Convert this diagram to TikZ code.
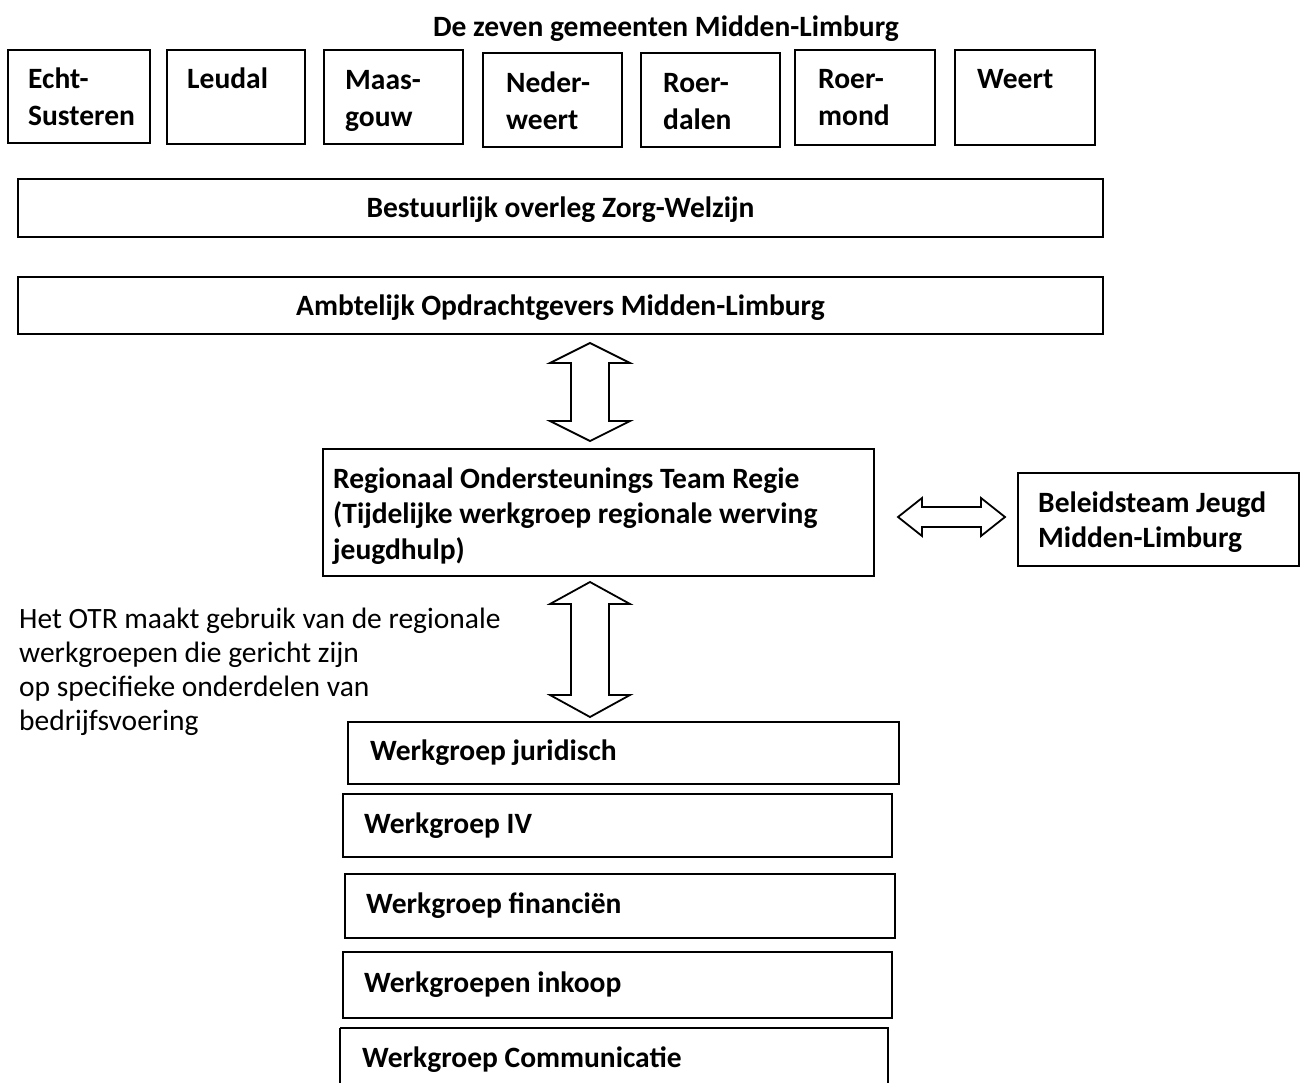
\documentclass[tikz,border=0pt]{standalone}
\usepackage{fontspec}
\setmainfont{Carlito}
\newcommand{\vdblarrow}[6]{% cx, ytop, ybot, half head, half shaft, head length
  \draw[blockarrow] (#1,#2) -- ({#1+#4},{#2+#6}) -- ({#1+#5},{#2+#6}) -- ({#1+#5},{#3-#6})
    -- ({#1+#4},{#3-#6}) -- (#1,#3) -- ({#1-#4},{#3-#6}) -- ({#1-#5},{#3-#6})
    -- ({#1-#5},{#2+#6}) -- ({#1-#4},{#2+#6}) -- cycle;}
\newcommand{\hdblarrow}[6]{% cy, xleft, xright, half head, half shaft, head length
  \draw[blockarrow] (#2,#1) -- ({#2+#6},{#1-#4}) -- ({#2+#6},{#1-#5}) -- ({#3-#6},{#1-#5})
    -- ({#3-#6},{#1-#4}) -- (#3,#1) -- ({#3-#6},{#1+#4}) -- ({#3-#6},{#1+#5})
    -- ({#2+#6},{#1+#5}) -- ({#2+#6},{#1+#4}) -- cycle;}
\begin{document}
\begin{tikzpicture}[x=1pt,y=-1pt,
  box/.style={draw=black, line width=2.4pt, fill=white, inner sep=0pt},
  blockarrow/.style={draw=black, line width=1.8pt, fill=white, line join=miter},
  lbl/.style={anchor=base west, inner sep=0pt, align=left,
    font=\fontsize{29.5}{37}\selectfont\bfseries},
  clbl/.style={anchor=base, inner sep=0pt,
    font=\fontsize{29.5}{37}\selectfont\bfseries},
  note/.style={anchor=base west, inner sep=0pt, align=left,
    font=\fontsize{29.5}{34}\selectfont}]
\useasboundingbox (0,0) rectangle (1300,1083);
\fill[white] (0,0) rectangle (1300,1083);

% title
\node[clbl] (title) at (666,37) {De zeven gemeenten Midden-Limburg};

% the seven municipalities (anchor = baseline of last line)
\draw[box] (8,50) rectangle (150,143);
\node[lbl] (echt) at (28,126) {Echt-\\Susteren};
\draw[box] (167,50) rectangle (305,144);
\node[lbl] (leudal) at (187,89) {Leudal};
\draw[box] (324,50) rectangle (463,144);
\node[lbl] (maas) at (345,127) {Maas-\\gouw};
\draw[box] (483,53) rectangle (622,147);
\node[lbl] (neder) at (506,130) {Neder-\\weert};
\draw[box] (641,53) rectangle (780,147);
\node[lbl] (roerd) at (663,130) {Roer-\\dalen};
\draw[box] (795,50) rectangle (935,145);
\node[lbl] (roerm) at (818,126) {Roer-\\mond};
\draw[box] (955,50) rectangle (1095,145);
\node[lbl] (weert) at (977,89) {Weert};

% wide boxes
\draw[box] (18,179) rectangle (1103,237);
\node[clbl] (bestuur) at (560.5,218) {Bestuurlijk overleg Zorg-Welzijn};
\draw[box] (18,277) rectangle (1103,334);
\node[clbl] (ambt) at (560.5,315) {Ambtelijk Opdrachtgevers Midden-Limburg};

% OTR and beleidsteam
\draw[box] (323,449) rectangle (874,576);
\node[lbl, font=\fontsize{29.5}{35.5}\selectfont\bfseries] (otr) at (333,559) {Regionaal Ondersteunings Team Regie\\(Tijdelijke werkgroep regionale werving\\jeugdhulp)};
\draw[box] (1018,473) rectangle (1299,566);
\node[lbl, font=\fontsize{29.5}{35}\selectfont\bfseries] (beleid) at (1038,547) {Beleidsteam Jeugd\\Midden-Limburg};

% block arrows
\vdblarrow{590}{343}{441}{40}{19}{20}
\hdblarrow{517}{898}{1005}{19}{10}{24}
\vdblarrow{590}{582}{717}{40}{19}{22}

% note
\node[note] (note) at (19,730) {Het OTR maakt gebruik van de regionale\\werkgroepen die gericht zijn\\op specifieke onderdelen van\\bedrijfsvoering};

% working groups
\draw[box] (348,722) rectangle (899,784);
\node[lbl] (jur) at (370,760) {Werkgroep juridisch};
\draw[box] (343,794) rectangle (892,857);
\node[lbl] (iv) at (364,833) {Werkgroep IV};
\draw[box] (345,874) rectangle (895,938);
\node[lbl] (fin) at (366,913) {Werkgroep financiën};
\draw[box] (343,952) rectangle (892,1018);
\node[lbl] (ink) at (364,992) {Werkgroepen inkoop};
\draw[box] (340,1028) -- (340,1100) (340,1028) -- (888,1028) -- (888,1100);
\node[lbl] (comm) at (362,1067) {Werkgroep Communicatie};
\end{tikzpicture}
\end{document}
